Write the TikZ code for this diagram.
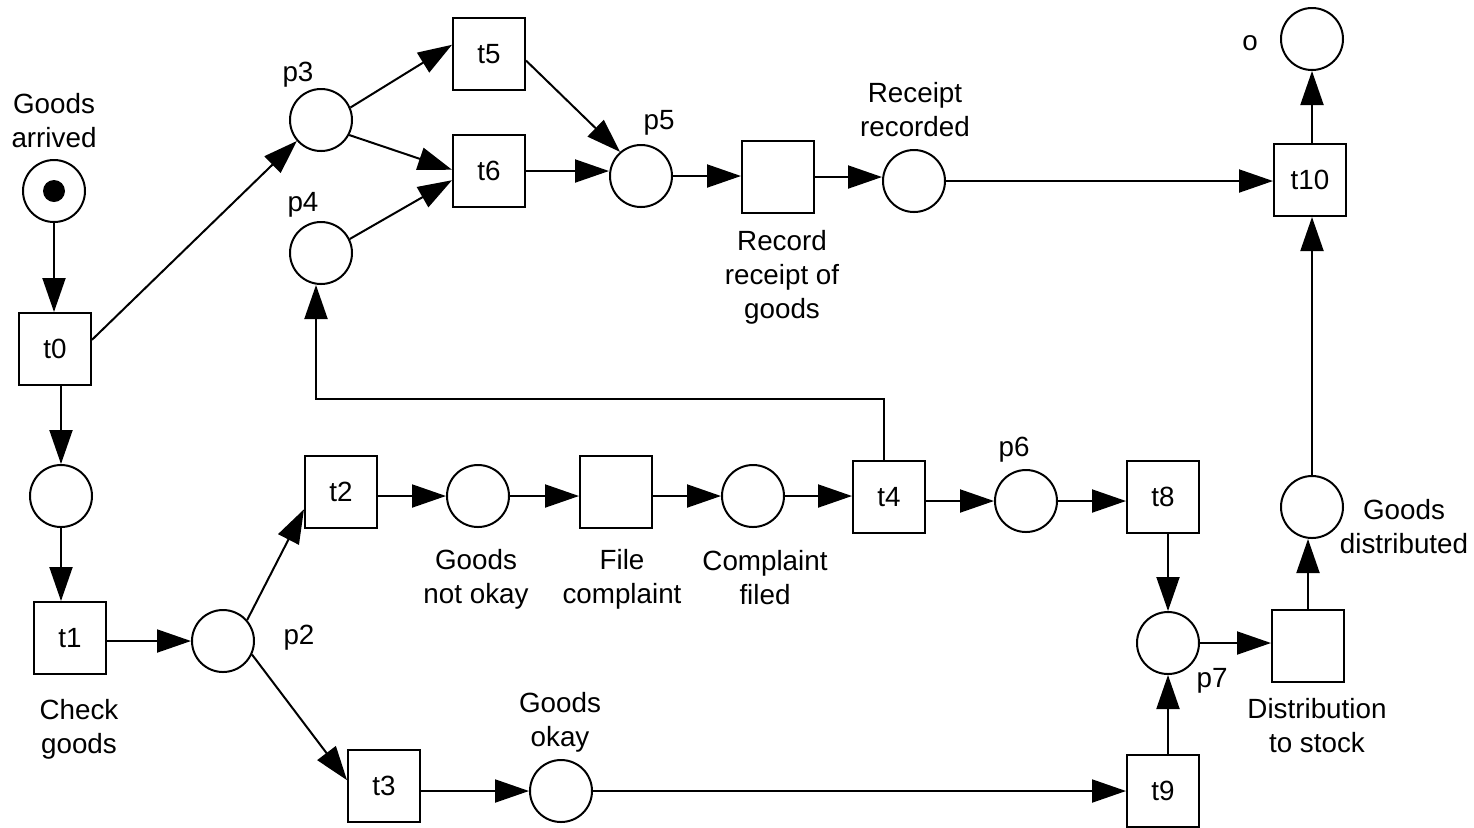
\documentclass[tikz,border=0pt]{standalone}
\usepackage{fontspec}
\setmainfont{Liberation Sans}
\usetikzlibrary{arrows.meta}
\begin{document}
\begin{tikzpicture}[x=0.5pt,y=-0.5pt,
  every node/.style={font=\fontsize{13.9pt}{17pt}\selectfont},
  place/.style={circle,draw,line width=1pt,minimum size=31pt,inner sep=0pt},
  trans/.style={rectangle,draw,line width=1pt,minimum size=36pt,inner sep=0pt},
  lbl/.style={align=center,inner sep=0pt},
  arc/.style={line width=1pt,-{Triangle[length=17pt,width=11.5pt]}},
  plainarc/.style={line width=1pt}]
\useasboundingbox (0,0) rectangle (1474,827);

% places
\node[place] (ga) at (54,191) {};
\node[circle,fill,minimum size=11pt,inner sep=0pt] (tok) at (ga) {};
\node[place] (p3) at (321,120) {};
\node[place] (p4) at (321,253) {};
\node[place] (p5) at (641,176) {};
\node[place] (rr) at (914,181) {};
\node[place] (o) at (1312,39) {};
\node[place] (c0) at (61,496) {};
\node[place] (p2) at (223,641) {};
\node[place] (gno) at (478,496) {};
\node[place] (cf) at (753,496) {};
\node[place] (p6) at (1026,501) {};
\node[place] (p7) at (1168,643) {};
\node[place] (gd) at (1312,507) {};
\node[place] (go) at (561,791) {};

% transitions
\node[trans] (t0) at (55,349) {t0};
\node[trans] (t1) at (70,638) {t1};
\node[trans] (t2) at (341,492) {t2};
\node[trans] (t3) at (384,786) {t3};
\node[trans] (t4) at (889,497) {t4};
\node[trans] (t5) at (489,54) {t5};
\node[trans] (t6) at (489,171) {t6};
\node[trans] (t8) at (1163,497) {t8};
\node[trans] (t9) at (1163,791) {t9};
\node[trans] (t10) at (1310,180) {t10};
\node[trans] (rec) at (778,177) {};
\node[trans] (fc) at (616,492) {};
\node[trans] (dist) at (1308,646) {};

% labels
\node[lbl] (lga) at (54,120.5) {Goods\\arrived};
\node[lbl] (lp3) at (298,75) {p3};
\node[lbl] (lp4) at (303,204.5) {p4};
\node[lbl] (lp5) at (659,122.5) {p5};
\node[lbl] (lrr) at (915,110) {Receipt\\recorded};
\node[lbl] (lrec) at (782,277.5) {Record\\receipt of\\goods};
\node[lbl] (lo) at (1250,43) {o};
\node[lbl] (lt1) at (79,729.5) {Check\\goods};
\node[lbl] (lp2) at (299,637.5) {p2};
\node[lbl] (lgno) at (476,579) {Goods\\not okay};
\node[lbl] (lfc) at (622,579.5) {File\\complaint};
\node[lbl] (lcf) at (765,577.5) {Complaint\\filed};
\node[lbl] (lp6) at (1014,450) {p6};
\node[lbl] (lgo) at (560,722.5) {Goods\\okay};
\node[lbl] (lgd) at (1404,526.5) {Goods\\distributed};
\node[lbl] (ldist) at (1317,725.5) {Distribution\\to stock};
\node[lbl] (lp7) at (1212,681) {p7};

% arcs
\draw[arc] (ga.south) -- (ga.south |- t0.north);
\draw[arc] (t0.south -| c0) -- (c0.north);
\draw[arc] (c0.south) -- (c0.south |- t1.north);
\draw[arc] (t0.14) -- (p3.221);
\draw[arc] (p3.23) -- (t5.166);
\draw[arc] (p3.332) -- (t6.178);
\draw[arc] (p4.26) -- (t6.194);
\draw[arc] (t5.350) -- (p5.131);
\draw[arc] (t6.east) -- (p5.west |- t6.east);
\draw[arc] (p5.east) -- (p5.east -| rec.west);
\draw[arc] (rec.east) -- (rec.east -| rr.west);
\draw[arc] (rr.east) -- (rr.east -| t10.west);
\draw[arc] (t10.north -| o) -- (o.south);
\draw[arc] (gd.north) -- (gd.north |- t10.south);
\draw[arc] (dist.north) -- (dist.north |- gd.south);
\draw[arc] (t1.east |- p2) -- (p2.west);
\draw[arc] (p2.41) -- (t2.205);
\draw[arc] (p2.335) -- (t3.171);
\draw[arc] (t2.east |- gno) -- (gno.west);
\draw[arc] (gno.east) -- (gno.east -| fc.west);
\draw[arc] (fc.east |- cf) -- (cf.west);
\draw[arc] (cf.east) -- (cf.east -| t4.west);
\draw[arc] (t4.east |- p6) -- (p6.west);
\draw[arc] (p6.east) -- (p6.east -| t8.west);
\draw[arc] (t8.south -| p7) -- (p7.north);
\draw[arc] (t9.north -| p7) -- (p7.south);
\draw[arc] (p7.east) -- (p7.east -| dist.west);
\draw[arc] (t3.east |- go) -- (go.west);
\draw[arc] (go.east) -- (go.east -| t9.west);
\coordinate (fbR) at (884,399);
\coordinate (fbL) at (316,399);
\draw[arc] (fbR |- t4.north) -- (fbR) -- (fbL) -- (fbL |- p4.south);
\end{tikzpicture}
\end{document}
